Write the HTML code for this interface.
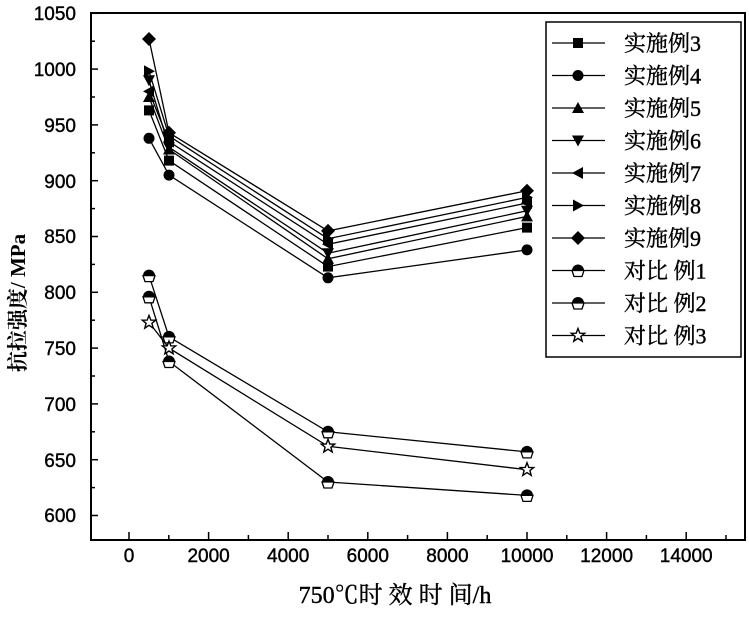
<!DOCTYPE html>
<html><head><meta charset="utf-8"><style>
html,body{margin:0;padding:0;background:#fff;}
svg{display:block;}
text{font-family:"Liberation Sans","Noto Sans CJK SC",sans-serif;fill:#000;}
.cn{font-family:"Liberation Serif","Noto Serif CJK SC",serif;}
</style></head><body>
<svg width="749" height="618" viewBox="0 0 749 618" xmlns="http://www.w3.org/2000/svg">
<defs>
<path id="sq" d="M-5,-5h10v10h-10z"/>
<circle id="ci" r="5.5"/>
<path id="tu" d="M0,-6L6,5H-6z"/>
<path id="td" d="M0,6L6,-5H-6z"/>
<path id="tl" d="M-6,0L5,-6V6z"/>
<path id="tr" d="M6,0L-5,-6V6z"/>
<path id="di" d="M0,-7L7,0L0,7L-7,0z"/>
<g id="pe"><path d="M-6,0A6,6 0 0 1 6,0z" fill="#000"/><path d="M-6,0H6L4,6H-4z" fill="#fff" stroke="#000" stroke-width="1.3"/></g>
<path id="st" d="M0,-7L1.8,-2.3L6.7,-2.2L2.9,0.9L4.2,5.7L0,2.9L-4.2,5.7L-2.9,0.9L-6.7,-2.2L-1.8,-2.3z" fill="#fff" stroke="#000" stroke-width="1.4"/>
</defs>
<rect x="91" y="13" width="654" height="527" fill="none" stroke="#000" stroke-width="2"/>
<g stroke="#000" stroke-width="1.5">
<line x1="91" y1="13.3" x2="98" y2="13.3"/><line x1="91" y1="41.2" x2="95" y2="41.2"/>
<line x1="91" y1="69.1" x2="98" y2="69.1"/><line x1="91" y1="97" x2="95" y2="97"/>
<line x1="91" y1="124.9" x2="98" y2="124.9"/><line x1="91" y1="152.8" x2="95" y2="152.8"/>
<line x1="91" y1="180.7" x2="98" y2="180.7"/><line x1="91" y1="208.6" x2="95" y2="208.6"/>
<line x1="91" y1="236.5" x2="98" y2="236.5"/><line x1="91" y1="264.4" x2="95" y2="264.4"/>
<line x1="91" y1="292.3" x2="98" y2="292.3"/><line x1="91" y1="320.2" x2="95" y2="320.2"/>
<line x1="91" y1="348.1" x2="98" y2="348.1"/><line x1="91" y1="376" x2="95" y2="376"/>
<line x1="91" y1="403.9" x2="98" y2="403.9"/><line x1="91" y1="431.8" x2="95" y2="431.8"/>
<line x1="91" y1="459.7" x2="98" y2="459.7"/><line x1="91" y1="487.6" x2="95" y2="487.6"/>
<line x1="91" y1="515.5" x2="98" y2="515.5"/>
<line x1="129" y1="540" x2="129" y2="532"/><line x1="168.8" y1="540" x2="168.8" y2="535"/>
<line x1="208.6" y1="540" x2="208.6" y2="532"/><line x1="248.4" y1="540" x2="248.4" y2="535"/>
<line x1="288.2" y1="540" x2="288.2" y2="532"/><line x1="328" y1="540" x2="328" y2="535"/>
<line x1="367.8" y1="540" x2="367.8" y2="532"/><line x1="407.6" y1="540" x2="407.6" y2="535"/>
<line x1="447.4" y1="540" x2="447.4" y2="532"/><line x1="487.2" y1="540" x2="487.2" y2="535"/>
<line x1="527" y1="540" x2="527" y2="532"/><line x1="566.8" y1="540" x2="566.8" y2="535"/>
<line x1="606.6" y1="540" x2="606.6" y2="532"/><line x1="646.4" y1="540" x2="646.4" y2="535"/>
<line x1="686.2" y1="540" x2="686.2" y2="532"/><line x1="726" y1="540" x2="726" y2="535"/>
</g>
<g font-size="19" text-anchor="end" stroke="#000" stroke-width="0.4">
<text x="76" y="20">1050</text><text x="76" y="76">1000</text><text x="76" y="132">950</text>
<text x="76" y="188">900</text><text x="76" y="243">850</text><text x="76" y="299">800</text>
<text x="76" y="355">750</text><text x="76" y="411">700</text><text x="76" y="467">650</text>
<text x="76" y="522">600</text>
</g>
<g font-size="19" text-anchor="middle" stroke="#000" stroke-width="0.4">
<text x="129" y="562">0</text><text x="208.6" y="562">2000</text><text x="288.2" y="562">4000</text>
<text x="367.8" y="562">6000</text><text x="447.4" y="562">8000</text><text x="527" y="562">10000</text>
<text x="606.6" y="562">12000</text><text x="686.2" y="562">14000</text>
</g>
<text class="cn" x="395" y="603" font-size="24" text-anchor="middle" stroke="#000" stroke-width="0.4">750℃时 效 时 间/h</text>
<text class="cn" x="0" y="0" font-size="21" text-anchor="middle" font-weight="bold" transform="translate(25,303) rotate(-90)">抗拉强度/ MPa</text>
<g fill="none" stroke="#000" stroke-width="1.3">
<polyline points="149,110.4 169,160.6 328,266.6 527,227.6"/>
<polyline points="149,138.3 169,175.1 328,277.8 527,249.9"/>
<polyline points="149,97 169,149.5 328,258.8 527,216.4"/>
<polyline points="149,80.3 169,147.2 328,253.2 527,210.8"/>
<polyline points="149,91.4 169,141.6 328,244.3 527,203"/>
<polyline points="149,71.3 169,136.1 328,238.7 527,197.4"/>
<polyline points="149,39 169,132.7 328,230.9 527,190.7"/>
<polyline points="149,275.6 169,336.9 328,431.8 527,451.9"/>
<polyline points="149,296.8 169,361.5 328,482 527,495.4"/>
<polyline points="149,322.4 169,348.1 328,446.3 527,469.7"/>
</g>
<g fill="#000">
<use href="#sq" x="149" y="110.4"/><use href="#sq" x="169" y="160.6"/><use href="#sq" x="328" y="266.6"/><use href="#sq" x="527" y="227.6"/>
<use href="#ci" x="149" y="138.3"/><use href="#ci" x="169" y="175.1"/><use href="#ci" x="328" y="277.8"/><use href="#ci" x="527" y="249.9"/>
<use href="#tu" x="149" y="97"/><use href="#tu" x="169" y="149.5"/><use href="#tu" x="328" y="258.8"/><use href="#tu" x="527" y="216.4"/>
<use href="#td" x="149" y="80.3"/><use href="#td" x="169" y="147.2"/><use href="#td" x="328" y="253.2"/><use href="#td" x="527" y="210.8"/>
<use href="#tl" x="149" y="91.4"/><use href="#tl" x="169" y="141.6"/><use href="#tl" x="328" y="244.3"/><use href="#tl" x="527" y="203"/>
<use href="#tr" x="149" y="71.3"/><use href="#tr" x="169" y="136.1"/><use href="#tr" x="328" y="238.7"/><use href="#tr" x="527" y="197.4"/>
<use href="#di" x="149" y="39"/><use href="#di" x="169" y="132.7"/><use href="#di" x="328" y="230.9"/><use href="#di" x="527" y="190.7"/>
</g>
<use href="#pe" x="149" y="275.6"/><use href="#pe" x="169" y="336.9"/><use href="#pe" x="328" y="431.8"/><use href="#pe" x="527" y="451.9"/>
<use href="#pe" x="149" y="296.8"/><use href="#pe" x="169" y="361.5"/><use href="#pe" x="328" y="482"/><use href="#pe" x="527" y="495.4"/>
<use href="#st" x="149" y="322.4"/><use href="#st" x="169" y="348.1"/><use href="#st" x="328" y="446.3"/><use href="#st" x="527" y="469.7"/>
<rect x="546" y="22" width="195" height="335" fill="#fff" stroke="#000" stroke-width="1.5"/>
<g stroke="#000" stroke-width="1.3">
<line x1="552" y1="43" x2="605" y2="43"/><line x1="552" y1="75.5" x2="605" y2="75.5"/>
<line x1="552" y1="108" x2="605" y2="108"/><line x1="552" y1="140.5" x2="605" y2="140.5"/>
<line x1="552" y1="173" x2="605" y2="173"/><line x1="552" y1="205.5" x2="605" y2="205.5"/>
<line x1="552" y1="238" x2="605" y2="238"/><line x1="552" y1="270.5" x2="605" y2="270.5"/>
<line x1="552" y1="303" x2="605" y2="303"/><line x1="552" y1="335.5" x2="605" y2="335.5"/>
</g>
<g fill="#000">
<use href="#sq" x="578" y="43"/><use href="#ci" x="578" y="75.5"/><use href="#tu" x="578" y="108"/>
<use href="#td" x="578" y="140.5"/><use href="#tl" x="578" y="173"/><use href="#tr" x="578" y="205.5"/>
<use href="#di" x="578" y="238"/>
</g>
<use href="#pe" x="578" y="270.5"/><use href="#pe" x="578" y="303"/><use href="#st" x="578" y="335.5"/>
<g font-size="22" stroke="#000" stroke-width="0.4">
<text class="cn" x="624" y="51">实施例3</text><text class="cn" x="624" y="83.5">实施例4</text>
<text class="cn" x="624" y="116">实施例5</text><text class="cn" x="624" y="148.5">实施例6</text>
<text class="cn" x="624" y="181">实施例7</text><text class="cn" x="624" y="213.5">实施例8</text>
<text class="cn" x="624" y="246">实施例9</text><text class="cn" x="624" y="278.5">对比 例1</text>
<text class="cn" x="624" y="311">对比 例2</text><text class="cn" x="624" y="343.5">对比 例3</text>
</g>
</svg>
</body></html>
